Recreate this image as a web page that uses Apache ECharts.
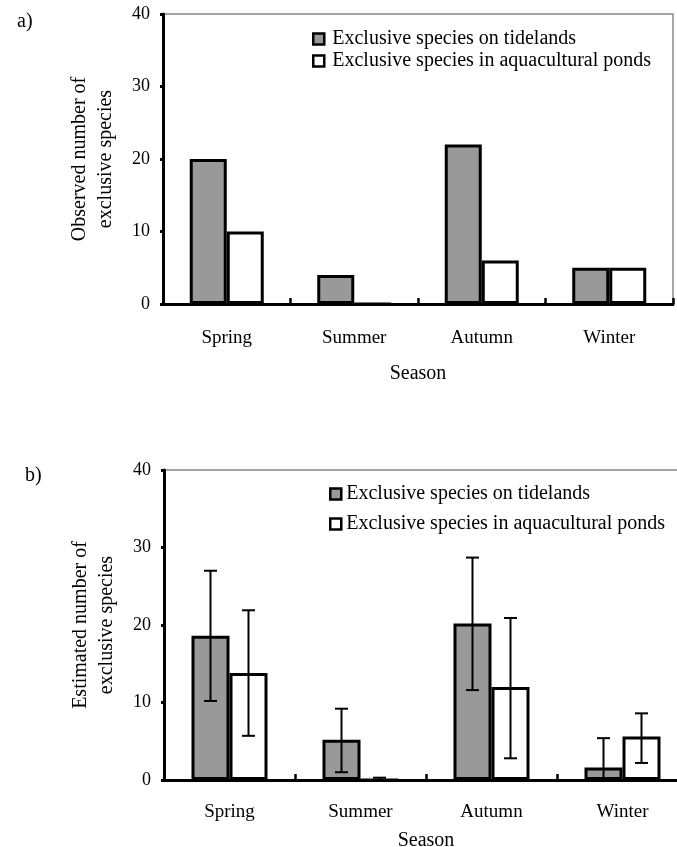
<!DOCTYPE html>
<html>
<head>
<meta charset="utf-8">
<script src="https://cdn.jsdelivr.net/npm/echarts@6/dist/echarts.min.js"></script>
<style>
html,body{margin:0;padding:0;background:#fff;}
#c{width:677px;height:847px;}
</style>
</head>
<body>
<div id="c"></div>
<script>
// ---- data ----
var seasons = ['Spring', 'Summer', 'Autumn', 'Winter'];
var seriesNames = ['Exclusive species on tidelands', 'Exclusive species in aquacultural ponds'];
var observedTidelands = [20, 4, 22, 5];
var observedPonds = [10, 0, 6, 5];
var estimatedTidelands = [18.6, 5.2, 20.2, 1.6];
var estimatedPonds = [13.8, 0, 12.0, 5.6];
var tidelandsLow = [10.2, 1.0, 11.6, -2.2];
var tidelandsHigh = [27.0, 9.2, 28.7, 5.4];
var pondsLow = [5.7, 0, 2.8, 2.2];
var pondsHigh = [21.9, 0.3, 20.9, 8.6];
var yTicks = [0, 10, 20, 30, 40];
var xAxisTitle = 'Season';
var yTitleA = 'Observed number of\nexclusive species';
var yTitleB = 'Estimated number of\nexclusive species';

var FONT = 'Liberation Serif';
var GRAY = '#999999';
var BW_A = 37, BW_B = 38;

function barSeries(name, data, xi, color, bw) {
  return {
    type: 'bar', name: name, data: data, xAxisIndex: xi, yAxisIndex: xi,
    barWidth: bw, barGap: '0%',
    itemStyle: { color: color, borderColor: '#000', borderWidth: 3 },
    emphasis: { disabled: true }, silent: true
  };
}

function errSeries(low, high, offsetSign) {
  var d = seasons.map(function (s, i) { return [i, low[i], high[i]]; });
  return {
    type: 'custom', name: 'err' + offsetSign, xAxisIndex: 1, yAxisIndex: 1,
    clip: true, silent: true, z: 5,
    data: d,
    renderItem: function (params, api) {
      var ci = api.value(0);
      var lo = api.coord([ci, api.value(1)]);
      var hi = api.coord([ci, api.value(2)]);
      var x = lo[0] + offsetSign * BW_B / 2;
      var cap = 6.5;
      var st = { stroke: '#000', lineWidth: 2 };
      return {
        type: 'group',
        children: [
          { type: 'line', shape: { x1: x, y1: lo[1], x2: x, y2: hi[1] }, style: st },
          { type: 'line', shape: { x1: x - cap, y1: hi[1], x2: x + cap, y2: hi[1] }, style: st },
          { type: 'line', shape: { x1: x - cap, y1: lo[1], x2: x + cap, y2: lo[1] }, style: st }
        ]
      };
    }
  };
}

function xAxisCfg(gi, labelMargin, nameGap) {
  return {
    type: 'category', gridIndex: gi, data: seasons,
    name: xAxisTitle, nameLocation: 'middle', nameGap: nameGap,
    nameTextStyle: { fontFamily: FONT, fontSize: 20, color: '#000' },
    axisLine: { lineStyle: { color: '#000', width: 3 } },
    axisTick: { show: true, inside: true, length: 6, lineStyle: { color: '#000', width: 2.5 } },
    axisLabel: { fontFamily: FONT, fontSize: 19, color: '#000', margin: labelMargin },
    splitLine: { show: false }
  };
}

function yAxisCfg(gi, name) {
  return {
    type: 'value', gridIndex: gi, min: 0, max: 40, interval: 10,
    name: name, nameLocation: 'middle', nameGap: 44, nameRotate: 90,
    nameTextStyle: { fontFamily: FONT, fontSize: 20, color: '#000', lineHeight: 26, align: 'center' },
    axisLine: { show: true, lineStyle: { color: '#000', width: 3 } },
    axisTick: { show: true, length: 3, lineStyle: { color: '#000', width: 3 } },
    axisLabel: { fontFamily: FONT, fontSize: 18, color: '#000', margin: 13,
      customValues: yTicks },
    splitLine: { show: false }
  };
}

function legendCfg(left, top, gap, textPad) {
  return {
    orient: 'vertical', left: left, top: top, itemGap: gap, padding: 0,
    itemWidth: 11, itemHeight: 11, icon: 'rect',
    data: seriesNames, selectedMode: false,
    itemStyle: { borderColor: '#000', borderWidth: 2.5 },
    textStyle: { fontFamily: FONT, fontSize: 20, color: '#000', lineHeight: 20, padding: [0, 0, 0, textPad] }
  };
}

var chart = echarts.init(document.getElementById('c'), null, { renderer: 'canvas' });
chart.setOption({
  animation: false,
  backgroundColor: '#fff',
  title: [
    { text: 'a)', left: 12, top: 7, textStyle: { fontFamily: FONT, fontSize: 20, fontWeight: 'normal', color: '#000' } },
    { text: 'b)', left: 20, top: 461, textStyle: { fontFamily: FONT, fontSize: 20, fontWeight: 'normal', color: '#000' } }
  ],
  legend: [legendCfg(312, 29, 2, 3), legendCfg(329, 484, 10, 0)],
  grid: [
    { left: 163, top: 14, width: 510, height: 290, show: true, borderColor: '#888', borderWidth: 1.5, backgroundColor: 'transparent', outerBoundsMode: 'none', containLabel: false },
    { left: 164, top: 470, width: 524, height: 310, show: true, borderColor: '#888', borderWidth: 1.5, backgroundColor: 'transparent', outerBoundsMode: 'none', containLabel: false }
  ],
  xAxis: [xAxisCfg(0, 25, 60), xAxisCfg(1, 23, 51)],
  yAxis: [yAxisCfg(0, yTitleA), yAxisCfg(1, yTitleB)],
  series: [
    barSeries(seriesNames[0], observedTidelands, 0, GRAY, BW_A),
    barSeries(seriesNames[1], observedPonds, 0, '#fff', BW_A),
    barSeries(seriesNames[0], estimatedTidelands, 1, GRAY, BW_B),
    barSeries(seriesNames[1], estimatedPonds, 1, '#fff', BW_B),
    errSeries(tidelandsLow, tidelandsHigh, -1),
    errSeries(pondsLow, pondsHigh, 1)
  ]
});
</script>
</body>
</html>
